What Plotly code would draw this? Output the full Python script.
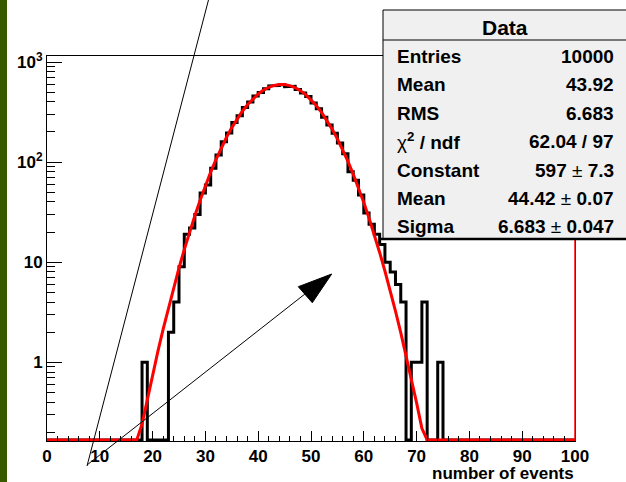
import numpy as np
import plotly.graph_objects as go

# ---------------- data ----------------
X_LOW, X_HIGH, N_BINS = 0, 100, 100
COUNTS = ([0] * 18 +
          [1, 0, 0, 0, 0, 2, 4, 9, 19, 22, 30, 49, 59, 87, 118, 160, 195, 248, 290, 352,
           398, 458, 497, 541, 578, 582, 593, 566, 571, 532, 490, 451, 389, 342, 281, 235,
           194, 155, 121, 80, 66, 47, 31, 24, 19, 15, 10, 8, 6, 4, 0, 1, 1, 4, 0, 0, 1] +
          [0] * 25)

# fit result (gaus) as printed in the stats box
FIT_CONSTANT = 597.0
FIT_MEAN = 44.42
FIT_SIGMA = 6.683
FIT_NPX = 100

STATS_LABELS = ["Entries", "Mean", "RMS", "χ² / ndf", "Constant", "Mean", "Sigma"]
STATS_VALUES = ["10000", "43.92", "6.683", "62.04 / 97", "597 ± 7.3", "44.42 ± 0.07", "6.683 ± 0.047"]

Y_TICKS = [1, 10, 100, 1000]
Y_TICKTEXT = ["1", "10", "10<sup>2</sup>", "10<sup>3</sup>"]

LOG_YMIN, LOG_YMAX = -0.786, 3.06
# ---------------------------------------

W, H = 626, 482
L, R, T, B = 47, 51, 56, 41
PW, PH = W - L - R, H - T - B

def px(x):  # pixel -> paper x
    return (x - L) / PW

def py(y):  # pixel -> paper y
    return (H - B - y) / PH

ymin = 10 ** LOG_YMIN
ybot = ymin * 1.025

edges = np.linspace(X_LOW, X_HIGH, N_BINS + 1)
hx, hy = [edges[0]], [ybot]
for i, c in enumerate(COUNTS):
    v = c if c > 0 else ybot
    hx += [edges[i], edges[i + 1]]
    hy += [v, v]
hx.append(edges[-1]); hy.append(ybot)

fx = np.linspace(X_LOW, X_HIGH, FIT_NPX + 1)
fy = FIT_CONSTANT * np.exp(-0.5 * ((fx - FIT_MEAN) / FIT_SIGMA) ** 2)
fy = np.maximum(fy, ybot)

fig = go.Figure()
fig.add_trace(go.Scatter(x=hx, y=hy, mode="lines", line=dict(color="black", width=3),
                         hoverinfo="skip", showlegend=False))
fig.add_trace(go.Scatter(x=fx, y=fy, mode="lines", line=dict(color="red", width=3),
                         hoverinfo="skip", showlegend=False))

FONT = "Liberation Sans, Arial, Helvetica, sans-serif"

minor_y = [m * 10 ** k for k in range(-1, 4) for m in range(2, 10)
           if LOG_YMIN < np.log10(m * 10 ** k) < LOG_YMAX]

fig.update_layout(
    width=W, height=H,
    margin=dict(l=L, r=R, t=T, b=B, pad=0),
    paper_bgcolor="white", plot_bgcolor="white",
    xaxis=dict(range=[X_LOW, X_HIGH], showgrid=False, zeroline=False,
               showline=True, linecolor="black", linewidth=1, mirror=True,
               ticks="inside", ticklen=10, tickcolor="black", tickwidth=1,
               tickmode="linear", tick0=0, dtick=10,
               minor=dict(ticks="inside", ticklen=5, dtick=2, tickcolor="black", tickwidth=1),
               tickfont=dict(family=FONT, size=17, color="black", weight="bold")),
    yaxis=dict(type="log", range=[LOG_YMIN, LOG_YMAX], showgrid=False, zeroline=False,
               showline=True, linecolor="black", linewidth=1, mirror=True,
               ticks="inside", ticklen=15, tickcolor="black", tickwidth=1,
               tickmode="array", tickvals=Y_TICKS, ticktext=Y_TICKTEXT,
               minor=dict(ticks="inside", ticklen=8, tickmode="array", tickvals=minor_y,
                          tickcolor="black", tickwidth=1),
               tickfont=dict(family=FONT, size=17, color="black", weight="bold")),
)

shapes = []
# green strip at left edge
shapes.append(dict(type="rect", xref="paper", yref="paper", x0=px(0), x1=px(7), y0=py(H + 5), y1=py(-5),
                   fillcolor="#385a00", line=dict(width=0), layer="above"))
# red right frame edge
shapes.append(dict(type="line", xref="paper", yref="paper", x0=1, x1=1, y0=0, y1=1,
                   line=dict(color="red", width=1.5), layer="above"))
# thin diagonal line
shapes.append(dict(type="line", xref="paper", yref="paper", x0=px(87), y0=py(466), x1=px(209), y1=py(-2),
                   line=dict(color="black", width=1), layer="above"))
# arrow shaft
shapes.append(dict(type="line", xref="paper", yref="paper", x0=px(87), y0=py(465), x1=px(310), y1=py(290),
                   line=dict(color="black", width=1), layer="above"))
# arrow head
shapes.append(dict(type="path", xref="paper", yref="paper",
                   path=f"M {px(331.7)},{py(274)} L {px(298.3)},{py(286.7)} L {px(312.3)},{py(302.7)} Z",
                   fillcolor="black", line=dict(color="black", width=1), layer="above"))
# stats box
shapes.append(dict(type="rect", xref="paper", yref="paper", x0=px(383), x1=px(640), y0=py(239), y1=py(10),
                   fillcolor="#f0f0f0", line=dict(color="black", width=1), layer="above"))
shapes.append(dict(type="line", xref="paper", yref="paper", x0=px(381), x1=px(640), y0=py(239), y1=py(239),
                   line=dict(color="black", width=2.5), layer="above"))
shapes.append(dict(type="line", xref="paper", yref="paper", x0=px(383), x1=px(640), y0=py(40), y1=py(40),
                   line=dict(color="black", width=1), layer="above"))
fig.update_layout(shapes=shapes)

ann = []
ann.append(dict(text="Data", xref="paper", yref="paper", x=px(505), y=py(27), xanchor="center", yanchor="middle",
                showarrow=False, font=dict(family=FONT, size=21, color="black", weight="bold")))
row_y = [56, 84.5, 113, 141, 170, 198.5, 226.5]
for lab, val, yy in zip(STATS_LABELS, STATS_VALUES, row_y):
    lab_html = lab.replace("χ²", "<span style='font-weight:normal'>χ</span><sup>2</sup>")
    val_html = val.replace("±", "<span style='font-weight:normal'>±</span>")
    ann.append(dict(text=lab_html, xref="paper", yref="paper", x=px(395), y=py(yy), xanchor="left",
                    yanchor="middle", showarrow=False,
                    font=dict(family=FONT, size=19, color="black", weight="bold")))
    ann.append(dict(text=val_html, xref="paper", yref="paper", x=px(616), y=py(yy), xanchor="right",
                    yanchor="middle", showarrow=False,
                    font=dict(family=FONT, size=19, color="black", weight="bold")))
ann.append(dict(text="number of events", xref="paper", yref="paper", x=px(576), y=py(474), xanchor="right",
                yanchor="middle", showarrow=False,
                font=dict(family=FONT, size=17, color="black", weight="bold")))
fig.update_layout(annotations=ann)

fig.write_html("out.html", config={"displayModeBar": False},
               post_script="document.body.style.margin='0px';document.body.style.overflow='hidden';")
